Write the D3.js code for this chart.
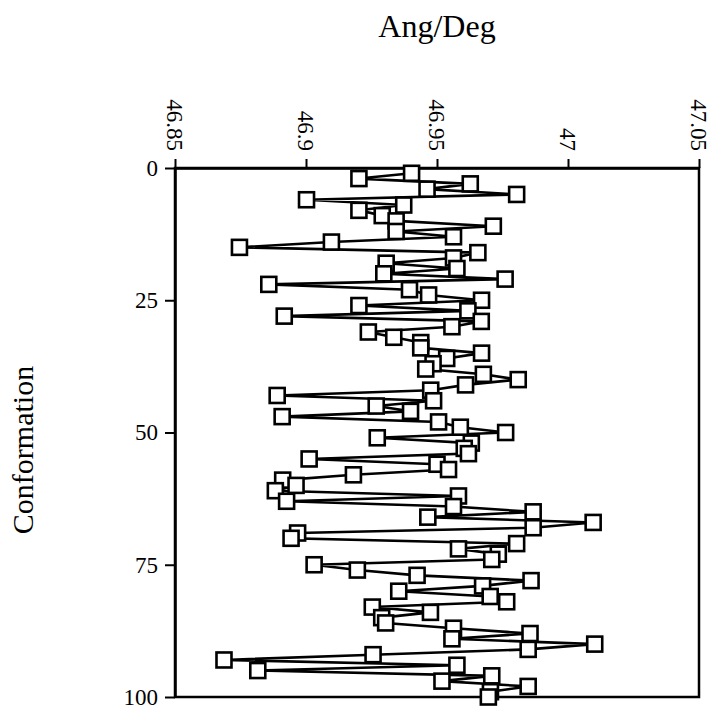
<!DOCTYPE html>
<html>
<head>
<meta charset="utf-8">
<script src="https://cdn.jsdelivr.net/npm/d3@7"></script>
<style>
  html, body { margin: 0; padding: 0; background: #fff; }
  svg { display: block; }
  text { font-family: "Liberation Serif", "Times New Roman", serif; fill: #000; }
</style>
</head>
<body>
<svg id="chart" width="717" height="717"></svg>
<script>
// ---- Data ----
const conformations = d3.range(1, 101);
const angles = [
  46.9403, 46.9202, 46.9627, 46.9462, 46.9804, 46.9002, 46.9373, 46.9202, 46.9291, 46.9344,
  46.9715, 46.9344, 46.9563, 46.9097, 46.8746, 46.9656, 46.9563, 46.9306, 46.9576, 46.9297,
  46.9760, 46.8858, 46.9395, 46.9468, 46.9670, 46.9202, 46.9618, 46.8917, 46.9669, 46.9557,
  46.9238, 46.9335, 46.9438, 46.9438, 46.9670, 46.9537, 46.9485, 46.9457, 46.9677, 46.9810,
  46.9609, 46.9476, 46.8890, 46.9487, 46.9268, 46.9399, 46.8909, 46.9506, 46.9589, 46.9762,
  46.9272, 46.9631, 46.9604, 46.9620, 46.9012, 46.9500, 46.9544, 46.9181, 46.8911, 46.8962,
  46.8883, 46.9582, 46.8926, 46.9563, 46.9867, 46.9465, 47.0096, 46.9867, 46.8968, 46.8943,
  46.9804, 46.9582, 46.9734, 46.9709, 46.9031, 46.9196, 46.9424, 46.9859, 46.9674, 46.9354,
  46.9703, 46.9766, 46.9253, 46.9475, 46.9289, 46.9304, 46.9563, 46.9855, 46.9557, 47.0102,
  46.9848, 46.9256, 46.8687, 46.9576, 46.8816, 46.9709, 46.9519, 46.9848, 46.9704, 46.9696
];
const xTicks = [46.85, 46.9, 46.95, 47, 47.05];
const xTickLabels = ["46.85", "46.9", "46.95", "47", "47.05"];
const yTicks = [0, 25, 50, 75, 100];
const xTitle = "Ang/Deg";
const yTitle = "Conformation";

// ---- Layout ----
const svg = d3.select("#chart");
const pLeft = 175, pRight = 699, pTop = 168, pBottom = 697;

const x = d3.scaleLinear().domain([46.85, 47.05]).range([pLeft, pRight]);
const y = d3.scaleLinear().domain([0, 100]).range([pTop, pBottom]);

const data = conformations.map((c, i) => ({ c, v: angles[i] }));

// frame
svg.append("rect")
  .attr("x", pLeft).attr("y", pTop)
  .attr("width", pRight - pLeft).attr("height", pBottom - pTop)
  .attr("fill", "none").attr("stroke", "#000").attr("stroke-width", 2.5);

// top axis
const xAxis = d3.axisTop(x).tickValues(xTicks)
  .tickFormat((d, i) => xTickLabels[i]).tickSize(9).tickSizeOuter(0).tickPadding(8);
const gx = svg.append("g").attr("transform", `translate(0,${pTop})`).call(xAxis);
gx.select(".domain").attr("stroke-width", 2.5);
gx.selectAll(".tick line").attr("stroke-width", 2);
gx.selectAll(".tick text")
  .attr("font-size", 23)
  .attr("font-family", "Liberation Serif, Times New Roman, serif")
  .attr("text-anchor", "end")
  .attr("transform", "rotate(90)")
  .attr("x", -17)
  .attr("y", 0)
  .attr("dy", "0.35em");

// left axis
const yAxis = d3.axisLeft(y).tickValues(yTicks).tickSize(10).tickSizeOuter(0).tickPadding(7);
const gy = svg.append("g").attr("transform", `translate(${pLeft},0)`).call(yAxis);
gy.select(".domain").attr("stroke-width", 2.5);
gy.selectAll(".tick line").attr("stroke-width", 2);
gy.selectAll(".tick text")
  .attr("font-size", 23)
  .attr("font-family", "Liberation Serif, Times New Roman, serif");

// line
const line = d3.line().x(d => x(d.v)).y(d => y(d.c));
svg.append("path").datum(data)
  .attr("d", line)
  .attr("fill", "none").attr("stroke", "#000").attr("stroke-width", 2.6);

// markers
const s = 15;
svg.append("g").selectAll("rect").data(data).join("rect")
  .attr("x", d => x(d.v) - s / 2)
  .attr("y", d => y(d.c) - s / 2)
  .attr("width", s).attr("height", s)
  .attr("fill", "#fff").attr("stroke", "#000").attr("stroke-width", 2.6);

// titles
svg.append("text")
  .attr("x", 437).attr("y", 37)
  .attr("text-anchor", "middle")
  .attr("font-size", 32)
  .text(xTitle);

svg.append("text")
  .attr("transform", "translate(22,450) rotate(-90)")
  .attr("text-anchor", "middle")
  .attr("dy", "0.35em")
  .attr("font-size", 30)
  .text(yTitle);
</script>
</body>
</html>
